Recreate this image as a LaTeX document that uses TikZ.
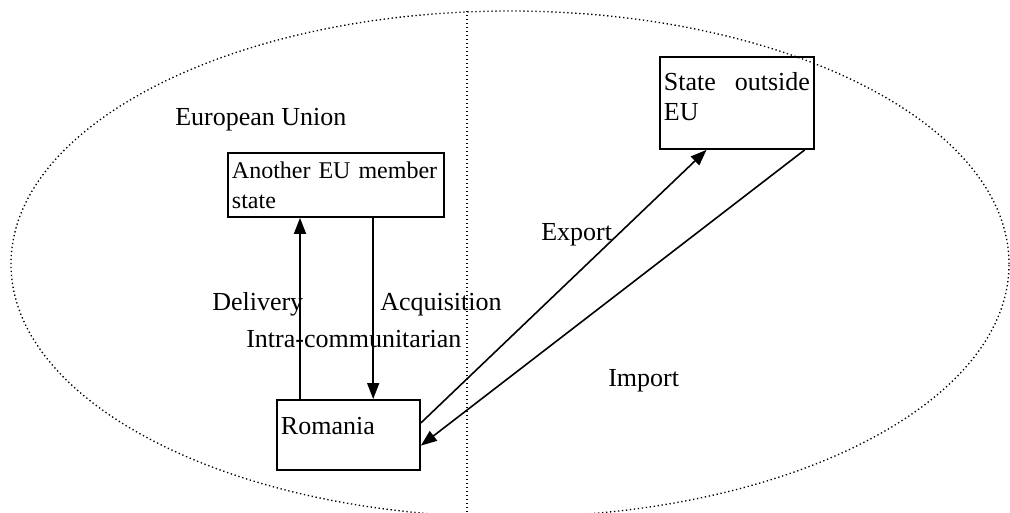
\documentclass[tikz,border=0pt]{standalone}
\usepackage{fontspec}
\setmainfont{Liberation Serif}
\usetikzlibrary{arrows.meta,calc}

\begin{document}
\begin{tikzpicture}[x=0.75pt,y=-0.75pt,font=\fontsize{19.5}{22.5}\selectfont,
  box/.style={draw, line width=1.4pt, inner xsep=3pt, inner ysep=0pt, align=left},
  lab/.style={anchor=base west, inner sep=0pt},
  arr/.style={line width=1.2pt, -{Triangle[length=12pt,width=9pt]}},
  dots/.style={line width=1pt, dash pattern=on 1pt off 2pt}]

\useasboundingbox (0,0) rectangle (1010,512);

% the Union and its border
\draw[dots] (510,264) ellipse [x radius=374.25pt, y radius=189.75pt];
\coordinate (t) at (467,11);
\coordinate (u) at (467,512);
\draw[dots] (t) -- (u);

\node[lab] (eu) at (175,125) {European Union};

% the states
\node[box, anchor=north west, minimum height=48pt, text width=156pt,
  font=\fontsize{18}{22.5}\selectfont] (m) at (227,152) {Another EU member\\state};
\node[box, anchor=north west, minimum height=69pt, text width=109.5pt, align=justify] (o) at (659,56) {State outside EU\par\kern9pt};
\node[box, anchor=north west, minimum height=52.5pt, text width=101.25pt, text height=12pt, text depth=12pt] (r) at (276,399) {Romania};

% inside the Union
\coordinate (d) at ($(m.south west)!0.335!(m.south east)$);
\coordinate (a) at ($(m.south west)!0.671!(m.south east)$);
\draw[arr] (r.north -| d) -- (d);
\draw[arr] (a) -- (r.north -| a);

\node[lab] (dl) at (212,310) {Delivery};
\node[lab] (ac) at (380,310) {Acquisition};
\node[lab] (ic) at (246,347) {Intra-communitarian};

% outside the Union
\coordinate (e) at ($(o.south west)!0.305!(o.south east)$);
\coordinate (i) at ($(o.south west)!0.935!(o.south east)$);
\draw[arr] ([yshift=9pt]r.east) -- (e);
\draw[arr] (i) -- ([yshift=-8pt]r.east);

\node[lab] (ex) at (541,240) {Export};
\node[lab] (im) at (608,386) {Import};

\end{tikzpicture}
\end{document}
